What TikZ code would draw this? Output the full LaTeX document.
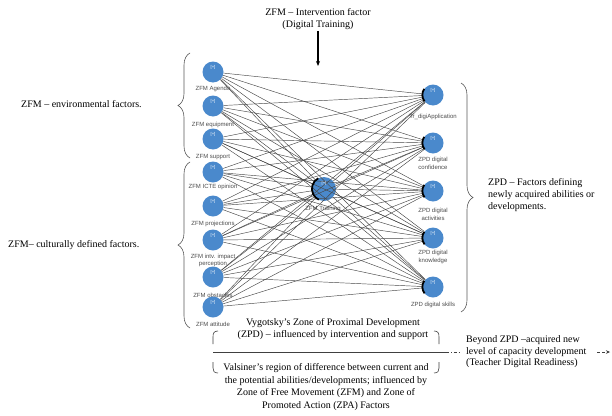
\documentclass[tikz,border=0pt]{standalone}
\usepackage{fontspec}
\setmainfont{Liberation Serif}
\newfontfamily\labelfont{Liberation Sans}
\usetikzlibrary{arrows.meta,decorations.pathreplacing}

\definecolor{nodeblue}{HTML}{4A89CC}

\begin{document}
\begin{tikzpicture}[x=1pt,y=1pt,
  factor/.style={circle,fill=nodeblue,draw=none,minimum size=21pt,inner sep=0pt},
  hub/.style={factor,minimum size=24pt},
  lbl/.style={font=\labelfont\fontsize{6}{7.4}\selectfont,text=black!70,align=center,inner sep=0.5pt},
  plus/.style={font=\labelfont\fontsize{4.2}{4.2}\selectfont,text=white,inner sep=0pt},
  edge/.style={draw=black!72,line width=0.45pt},
  tipmark/.style={line width=1.8pt,draw=black},
  bracecurve/.style={draw=black!65,line width=0.6pt,decorate,decoration={brace,amplitude=12pt}},
  caption/.style={font=\fontsize{10}{12}\selectfont,align=center,inner sep=1pt},
  thinline/.style={draw=black!75,line width=0.6pt},
]
\useasboundingbox (0,0) rectangle (612,-415);
\fill[white] (0,0) rectangle (612,-415);

% ZFM factor nodes (left column)
\foreach \n/\y/\ly/\t in {
  l1/72/89/{ZFM Agenda},
  l2/106/125/{ZFM equipment},
  l3/139/157/{ZFM support},
  l4/172/187/{ZFM ICTE opinion},
  l5/206/224/{ZFM projections},
  l6/240/260.5/{ZFM intv. impact\\perception},
  l7/277/295/{ZFM obstacles},
  l8/307/324/{ZFM attitude}}{
  \node[factor] (\n) at (213,-\y) {};
  \node[lbl] (\n-t) at (213,-\ly) {\t};
}

% ZPD nodes (right column)
\foreach \n/\y/\ly/\t in {
  r1/95/117/{Tr\_digiApplication},
  r2/143/163.5/{ZPD digital\\confidence},
  r3/191/214.5/{ZPD digital\\activities},
  r4/238/257/{ZPD digital\\knowledge},
  r5/287/305/{ZPD digital skills}}{
  \node[factor] (\n) at (433,-\y) {};
  \node[lbl] (\n-t) at (433,-\ly) {\t};
}

% intervention hub
\node[hub] (c) at (324,-189) {};
\node[lbl] (c-t) at (323,-209) {ZFM Training};

% connectors
\foreach \s in {l1,l2,l3,l4,l5,l6,l7,l8}{
  \foreach \t in {c,r1,r2,r3,r4,r5}{
    \draw[edge] (\s) -- (\t);
  }
}
\foreach \t in {r1,r2,r3,r4,r5}{
  \draw[edge] (c) -- (\t);
}

% incoming-edge marks
\foreach \t in {r1,r2,r3,r4,r5}{
  \draw[tipmark] (\t.145) arc[start angle=145,end angle=218,radius=10.5pt];
}
\draw[tipmark] (c.118) arc[start angle=118,end angle=245,radius=12pt];

% [+] markers
\foreach \n in {l1,l2,l3,l4,l5,l6,l7,l8,r1,r2,r3,r4,r5}{
  \node[plus] (p-\n) at ([yshift=4.8pt]\n.center) {[+]};
}
\node[plus] (p-c) at ([yshift=5.2pt]c.center) {[+]};

% intervention caption with arrow
\node[caption] (zfmint) at (318,-19) {ZFM – Intervention factor\\(Digital Training)};
\coordinate (intend) at (318,-66);
\draw[line width=1.1pt,-{Stealth[length=5pt,width=4pt]}] (zfmint) -- (intend);

% braces and side captions
\draw[bracecurve] (190,-158) -- (190,-53);
\draw[bracecurve] (190,-328) -- (190,-162);
\draw[bracecurve] (461,-83) -- (461,-312);

\node[caption,anchor=west] (env) at (20,-104) {ZFM – environmental factors.};
\node[caption,anchor=west] (cult) at (7,-245) {ZFM– culturally defined factors.};
\node[caption,anchor=west,align=left] (zpd) at (487,-195)
  {ZPD – Factors defining\\newly acquired abilities or\\developments.};

% bottom zone bracket
\node[caption] (vyg) at (333,-329)
  {Vygotsky’s Zone of Proximal Development\\(ZPD) – influenced by intervention and support};
\node[caption,font=\fontsize{10}{12.6}\selectfont] (vals) at (326,-387)
  {Valsiner’s region of difference between current and\\the potential abilities/developments; influenced by\\Zone of Free Movement (ZFM) and Zone of\\Promoted Action (ZPA) Factors};
\node[caption,anchor=west,align=left,font=\fontsize{10}{11.6}\selectfont] (beyond) at (465,-352)
  {Beyond ZPD –acquired new\\level of capacity development\\(Teacher Digital Readiness)};

\draw[thinline] (218,-331) .. controls (214,-331) and (213,-333) .. (213,-337) -- (213,-344);
\draw[thinline] (213,-362) -- (213,-368) .. controls (213,-371) and (214,-373) .. (218,-373);
\draw[thinline] (434,-331) .. controls (438,-331) and (439,-333) .. (439,-337) -- (439,-344);
\draw[thinline] (439,-362) -- (439,-368) .. controls (439,-371) and (438,-373) .. (434,-373);

\coordinate (zl) at (213,-352);
\coordinate (zr) at (446,-352);
\coordinate (zd) at (461,-352);
\draw[thinline] (zl) -- (zr);
\draw[thinline,dash dot] (zr) -- (zd);

\coordinate (ba) at (597,-352);
\coordinate (bb) at (610,-352);
\draw[thinline,densely dashed,-{Stealth[length=4pt,width=3.5pt]}] (ba) -- (bb);
\end{tikzpicture}
\end{document}
